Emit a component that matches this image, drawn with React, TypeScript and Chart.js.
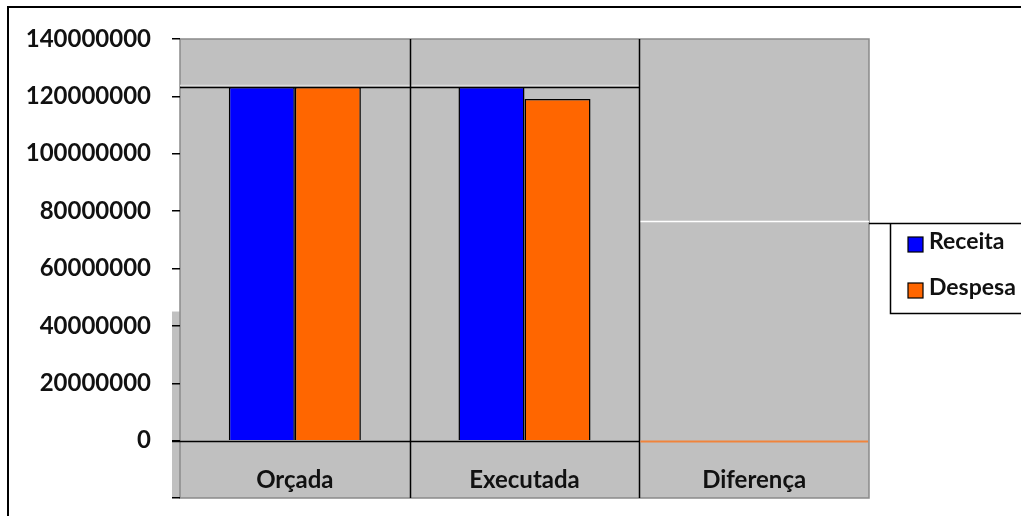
import React, { useEffect, useRef } from "react";
import { Chart, registerables } from "chart.js";

Chart.register(...registerables);

const categories = ["Orçada", "Executada", "Diferença"];
const receita = [123300000, 123300000, 0];
const despesa = [123300000, 119100000, 0];
const yMin = -20000000;
const yMax = 140000000;
const yStep = 20000000;
const topLineValue = 123300000; // black line across Orçada / Executada
const diffLineValue = 76400000; // white line inside Diferença

const FONT = "Lato, 'Liberation Sans', sans-serif";

const decorPlugin = {
  id: "decor",
  beforeDraw(chart: any) {
    const { ctx, chartArea: a, width, height } = chart;
    ctx.save();
    ctx.fillStyle = "#ffffff";
    ctx.fillRect(0, 0, width, height);
    ctx.fillStyle = "#C0C0C0";
    ctx.fillRect(a.left, a.top, a.right - a.left, a.bottom - a.top);
    const yS = chart.scales.y;
    const ys = yS.getPixelForValue(45000000);
    ctx.fillRect(a.left - 8, ys, 8, a.bottom - ys);
    ctx.strokeStyle = "#8a8a8a";
    ctx.lineWidth = 1.5;
    ctx.strokeRect(a.left, a.top, a.right - a.left, a.bottom - a.top);
    ctx.strokeStyle = "#000";
    ctx.lineWidth = 2;
    ctx.beginPath();
    ctx.moveTo(8, height);
    ctx.lineTo(8, 7);
    ctx.lineTo(width, 7);
    ctx.stroke();
    ctx.restore();
  },
  beforeDatasetsDraw(chart: any) {
    const { ctx, chartArea: a } = chart;
    const x = chart.scales.x;
    const y = chart.scales.y;
    const n = categories.length;
    const bounds: number[] = [];
    for (let i = 1; i < n; i++) bounds.push((x.getPixelForValue(i - 1) + x.getPixelForValue(i)) / 2);
    ctx.save();
    const yt = Math.round(y.getPixelForValue(topLineValue)) + 0.5;
    ctx.strokeStyle = "#dcdcdc";
    ctx.lineWidth = 1.5;
    ctx.beginPath();
    ctx.moveTo(a.left, yt - 2);
    ctx.lineTo(bounds[1], yt - 2);
    ctx.stroke();
    ctx.strokeStyle = "#000";
    ctx.lineWidth = 1.5;
    ctx.beginPath();
    ctx.moveTo(a.left, yt);
    ctx.lineTo(bounds[1], yt);
    ctx.stroke();
    const yd = Math.round(y.getPixelForValue(diffLineValue)) + 0.5;
    ctx.strokeStyle = "#ffffff";
    ctx.lineWidth = 1.5;
    ctx.beginPath();
    ctx.moveTo(bounds[1], yd);
    ctx.lineTo(a.right, yd);
    ctx.stroke();
    ctx.strokeStyle = "#000";
    ctx.lineWidth = 1.5;
    bounds.forEach((bx) => {
      ctx.beginPath();
      ctx.moveTo(Math.round(bx) + 0.5, a.top);
      ctx.lineTo(Math.round(bx) + 0.5, a.bottom);
      ctx.stroke();
    });
    const y0 = Math.round(y.getPixelForValue(0)) + 0.5;
    ctx.beginPath();
    ctx.moveTo(a.left - 8, y0);
    ctx.lineTo(bounds[1], y0);
    ctx.strokeStyle = "#000";
    ctx.stroke();
    ctx.beginPath();
    ctx.moveTo(bounds[1] + 1, y0);
    ctx.lineTo(a.right - 1, y0);
    ctx.strokeStyle = "#F0843C";
    ctx.lineWidth = 2;
    ctx.stroke();
    ctx.fillStyle = "#111";
    ctx.font = `bold 24px ${FONT}`;
    ctx.textAlign = "center";
    ctx.textBaseline = "alphabetic";
    categories.forEach((c, i) => {
      ctx.fillText(c, x.getPixelForValue(i), a.bottom - 10);
    });
    ctx.restore();
  },
  afterDraw(chart: any) {
    const { ctx, chartArea: a, width } = chart;
    ctx.save();
    ctx.strokeStyle = "#000";
    ctx.lineWidth = 1.5;
    const top = 223.5;
    const bottom = 313.5;
    const left = 890.5;
    ctx.beginPath();
    ctx.moveTo(a.right, top);
    ctx.lineTo(width, top);
    ctx.moveTo(left, top);
    ctx.lineTo(left, bottom);
    ctx.lineTo(width, bottom);
    ctx.stroke();
    ctx.font = `bold 23px ${FONT}`;
    ctx.textAlign = "left";
    ctx.textBaseline = "middle";
    chart.data.datasets.forEach((ds: any, i: number) => {
      const cy = 244 + i * 46;
      ctx.fillStyle = ds.backgroundColor;
      ctx.fillRect(908, cy - 7, 15, 15);
      ctx.lineWidth = 1.2;
      ctx.strokeStyle = "#000";
      ctx.strokeRect(908, cy - 7, 15, 15);
      ctx.fillStyle = "#111";
      ctx.fillText(ds.label, 929, cy - 2);
    });
    ctx.restore();
  },
};

export default function App() {
  const ref = useRef<HTMLCanvasElement>(null);
  useEffect(() => {
    const chart = new Chart(ref.current!, {
      type: "bar",
      data: {
        labels: categories,
        datasets: [
          {
            label: "Receita",
            data: receita,
            backgroundColor: "#0000FF",
            borderColor: "#000",
            borderWidth: (c: any) => (c.raw === 0 ? 0 : 1.5),
            categoryPercentage: 0.575,
            barPercentage: 1,
          },
          {
            label: "Despesa",
            data: despesa,
            backgroundColor: "#FF6600",
            borderColor: "#000",
            borderWidth: (c: any) => (c.raw === 0 ? 0 : 1.5),
            categoryPercentage: 0.575,
            barPercentage: 1,
          },
        ],
      },
      options: {
        responsive: false,
        animation: false,
        layout: { padding: { left: 0, top: 39, right: 152, bottom: 18 } },
        plugins: { legend: { display: false }, tooltip: { enabled: false } },
        scales: {
          x: { display: false },
          y: {
            min: yMin,
            max: yMax,
            afterFit: (s: any) => {
              s.width = 180;
              s.paddingTop = 0;
              s.paddingBottom = 0;
            },
            ticks: {
              stepSize: yStep,
              padding: 21,
              color: "#111",
              font: { family: FONT, size: 24, weight: "bold" },
              callback: (v: any) => (v < 0 ? "" : String(v)),
            },
            grid: { drawOnChartArea: false, tickLength: 8, color: "#000", lineWidth: 1.5 },
            border: { display: false },
          },
        },
      },
      plugins: [decorPlugin],
    });
    return () => chart.destroy();
  }, []);
  return (
    <div style={{ position: "fixed", left: 0, top: 0, width: 1021, height: 516, background: "#fff" }}>
      <canvas ref={ref} width={1021} height={516} />
    </div>
  );
}
